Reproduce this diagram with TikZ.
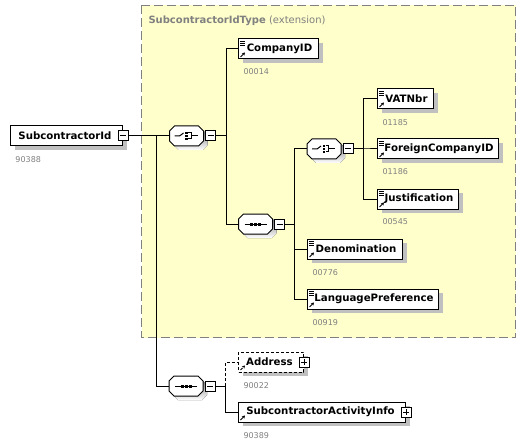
\documentclass[tikz,border=0pt]{standalone}
\usepackage{fontspec}
\setmainfont{DejaVu Sans}
\usepackage{xcolor}
\usetikzlibrary{shapes, positioning, shadows, arrows.meta}

\definecolor{extfill}{RGB}{255,255,204}
\definecolor{extline}{RGB}{128,128,128}
\definecolor{shade}{RGB}{192,192,192}
\definecolor{idgrey}{RGB}{128,128,128}

\newcommand{\octpath}{(-17,-5) -- (-12,-10) -- (12,-10) -- (17,-5) -- (17,5) -- (12,10) -- (-12,10) -- (-17,5) -- cycle}

\tikzset{
    ext/.style={draw=extline, fill=extfill, line width=1pt, dash pattern=on 9pt off 4pt},
    title/.style={anchor=base west, inner sep=0pt, text=idgrey, font=\fontsize{10}{12}\selectfont},
    idno/.style={anchor=base west, inner sep=0pt, text=idgrey, font=\fontsize{8}{10}\selectfont},
    box/.style={draw, fill=white, line width=1pt, inner sep=0pt, anchor=west,
        minimum height=20pt, font=\bfseries\fontsize{10.2}{12}\selectfont,
        execute at begin node={\hspace*{-3pt}},
        general shadow={fill=shade, shadow xshift=4pt, shadow yshift=-4pt}},
    simple/.style={box, execute at begin node={\hspace*{5pt}},
        path picture={
            \foreach \k in {2.5pt,4.5pt,6.5pt}
                \draw[line width=0.6pt] ([shift={(1.5pt,-\k)}]path picture bounding box.north west) -- ++(4.5pt,0pt);
            \draw[line width=1pt, -{Stealth[length=3pt,width=3.5pt]}] ([shift={(2pt,2pt)}]path picture bounding box.south west) -- ++(4.5pt,4.5pt);
        }},
    complex/.style={box,
        path picture={
            \draw[line width=1pt, -{Stealth[length=3pt,width=3.5pt]}] ([shift={(2pt,2pt)}]path picture bounding box.south west) -- ++(4.5pt,4.5pt);
        }},
    grpbox/.style={inner sep=0pt, minimum width=34pt, minimum height=20pt},
    pics/choice/.style={code={
        \fill[shade, shift={(4,4)}] \octpath;
        \draw[fill=white] \octpath;
        \node[grpbox] (-box) {};
        \draw (-12,0) -- (-7,0) -- (-3,-3);
        \foreach \k in {-3,0,3}
            \fill (-1.2,\k-1.2) rectangle ++(2.4,2.4);
        \draw (1.5,-3) -- (4.5,-3) -- (4.5,3) -- (1.5,3);
        \draw (4.5,0) -- (11,0);
    }},
    pics/seq/.style={code={
        \fill[shade, shift={(4,4)}] \octpath;
        \draw[fill=white] \octpath;
        \node[grpbox] (-box) {};
        \draw (-11,0) -- (11,0);
        \foreach \k in {-4,0,4}
            \fill (\k-1.5,-1.5) rectangle ++(3,3);
    }},
    minus/.style={draw, fill=white, line width=1pt, inner sep=0pt, minimum size=10pt,
        path picture={
            \draw[line width=1pt] ([xshift=-3pt]path picture bounding box.center) -- ([xshift=3pt]path picture bounding box.center);
        }},
    plus/.style={draw, fill=white, line width=1pt, inner sep=0pt, minimum size=10pt,
        path picture={
            \draw[line width=1pt] ([xshift=-3pt]path picture bounding box.center) -- ([xshift=3pt]path picture bounding box.center);
            \draw[line width=1pt] ([yshift=-3pt]path picture bounding box.center) -- ([yshift=3pt]path picture bounding box.center);
        }},
}

\begin{document}
\begin{tikzpicture}[x=1pt, y=-1pt, line width=1pt]
    \useasboundingbox (0,0) rectangle (531,444);

    % extension area
    \draw[ext] (141.5,5.5) rectangle (515.5,337.5);
    \node[title] (ttl) at (148,24) {\textbf{SubcontractorIdType} (extension)};

    \node[box, minimum width=112pt] (root) at (10,136) {SubcontractorId};
    \node[minus] (rootm) at (root.east) {};
    \node[idno] (rootid) at ([shift={(5pt,-15.5pt)}]root.south west) {90388};

    \pic (ch1) at (186.5,136) {choice};
    \node[minus, right=1pt of ch1-box] (ch1m) {};

    \node[simple, minimum width=80pt] (comp) at (238,49) {CompanyID};
    \node[idno] (compid) at ([shift={(5pt,-15.5pt)}]comp.south west) {00014};

    \pic (seq1) at (255.5,224) {seq};
    \node[minus, right=1pt of seq1-box] (seq1m) {};

    \pic (ch2) at (324,149) {choice};
    \node[minus, right=1pt of ch2-box] (ch2m) {};

    \node[simple, minimum width=56pt] (vat) at (377,99) {VATNbr};
    \node[idno] (vatid) at ([shift={(5pt,-15.5pt)}]vat.south west) {01185};
    \node[simple, minimum width=121pt] (fcid) at (377,149) {ForeignCompanyID};
    \node[idno] (fcidid) at ([shift={(5pt,-15.5pt)}]fcid.south west) {01186};
    \node[simple, minimum width=81pt] (just) at (377,199) {Justification};
    \node[idno] (justid) at ([shift={(5pt,-15.5pt)}]just.south west) {00545};

    \node[simple, minimum width=95pt] (denom) at (307,249) {Denomination};
    \node[idno] (denomid) at ([shift={(5pt,-15.5pt)}]denom.south west) {00776};
    \node[simple, minimum width=131pt] (lang) at (307,299) {LanguagePreference};
    \node[idno] (langid) at ([shift={(5pt,-15.5pt)}]lang.south west) {00919};

    \pic (seq2) at (186,386) {seq};
    \node[minus, right=1pt of seq2-box] (seq2m) {};

    \node[complex, minimum width=65pt, dash pattern=on 3pt off 2pt] (addr) at (238,362) {Address};
    \node[plus] (addrp) at (addr.east) {};
    \node[idno] (addrid) at ([shift={(5pt,-15.5pt)}]addr.south west) {90022};
    \node[complex, minimum width=167pt] (sai) at (238,412) {SubcontractorActivityInfo};
    \node[plus] (saip) at (sai.east) {};
    \node[idno] (saiid) at ([shift={(5pt,-15.5pt)}]sai.south west) {90389};

    \draw (rootm.east) -- (ch1-box.west);
    \draw (rootm.east) ++(28,0) |- (seq2-box.west);

    \draw (ch1m.east) -- ++(10,0) |- (comp.west);
    \draw (ch1m.east) -- ++(10,0) |- (seq1-box.west);

    \draw (seq1m.east) -- ++(9,0) |- (ch2-box.west);
    \draw (seq1m.east) -- ++(9,0) |- (denom.west);
    \draw (seq1m.east) -- ++(9,0) |- (lang.west);

    \draw (ch2m.east) -- ++(10,0) |- (vat.west);
    \draw (ch2m.east) -- ++(10,0) |- (fcid.west);
    \draw (ch2m.east) -- ++(10,0) |- (just.west);

    \draw[dash pattern=on 3pt off 2pt] (seq2m.east) ++(10,0) |- (addr.west);
    \draw (seq2m.east) -- ++(10,0) |- (sai.west);
\end{tikzpicture}
\end{document}
